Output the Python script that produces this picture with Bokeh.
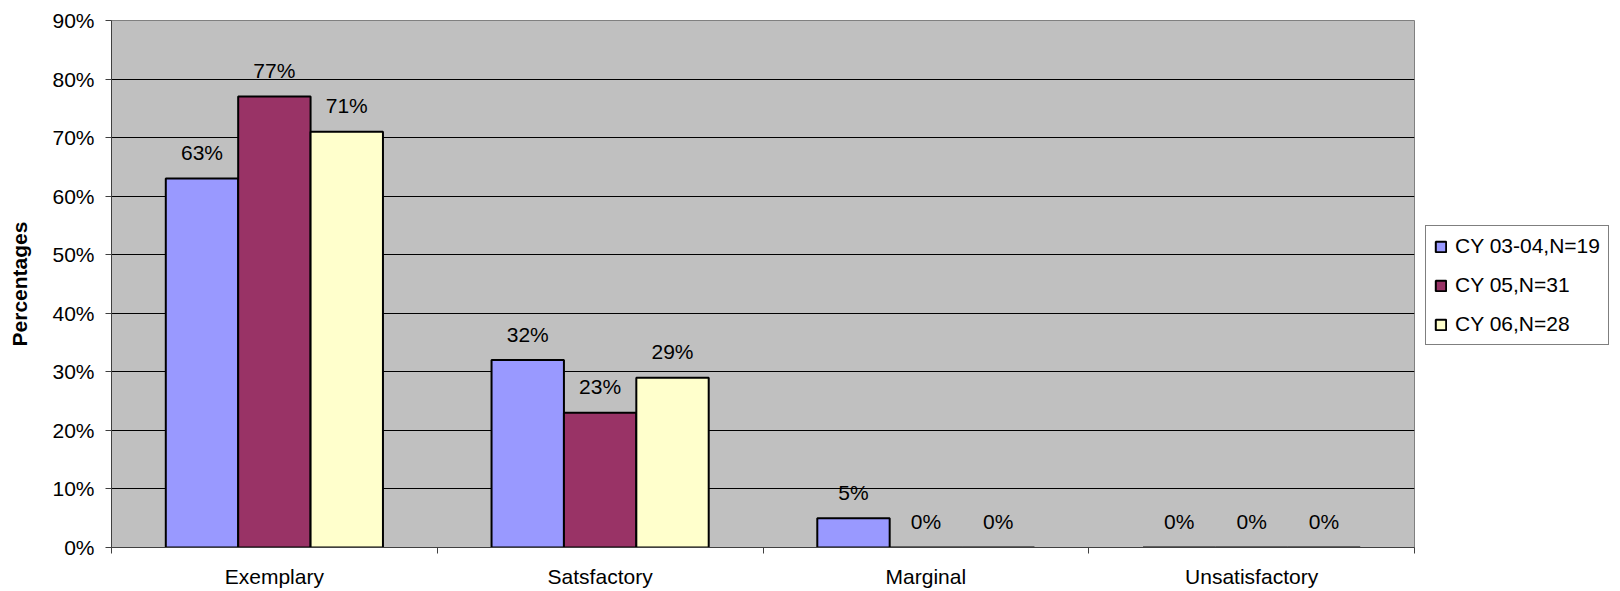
from bokeh.plotting import figure
from bokeh.layouts import row
from bokeh.models import (ColumnDataSource, FixedTicker, PrintfTickFormatter,
                          Legend, LegendItem, Range1d)
from bokeh.core.properties import value
from bokeh.embed import file_html
from bokeh.resources import INLINE

# Ratings and the share of reviews in each, per calendar-year cohort
categories = ["Exemplary", "Satsfactory", "Marginal", "Unsatisfactory"]
series_names = ["CY 03-04,N=19", "CY 05,N=31", "CY 06,N=28"]
cy0304 = [63, 32, 5, 0]
cy05 = [77, 23, 0, 0]
cy06 = [71, 29, 0, 0]
y_ticks = [0, 10, 20, 30, 40, 50, 60, 70, 80, 90]

series_values = [cy0304, cy05, cy06]
colors = ["#9999FF", "#993366", "#FFFFCC"]
FONT = "Liberation Sans"
FS = "21px"

p = figure(width=1416, height=591, output_backend="svg",
           toolbar_location=None,
           x_range=Range1d(0, len(categories)), y_range=Range1d(0, 90),
           min_border_left=111, min_border_right=2, min_border_top=20,
           min_border_bottom=44)

p.background_fill_color = "#C0C0C0"
p.border_fill_color = "white"
p.outline_line_color = "#808080"
p.outline_line_width = 1

bar_w = 1 / 4.5
for k, (name, vals, col) in enumerate(zip(series_names, series_values, colors)):
    xs = [i + 0.5 + (k - 1) * bar_w for i in range(len(categories))]
    src = ColumnDataSource(dict(x=xs, top=vals, label=[f"{round(v)}%" for v in vals]))
    p.vbar(x="x", top="top", width=bar_w, source=src, fill_color=col,
           line_color="black", line_width=2)
    p.text(x="x", y="top", text="label", source=src, text_align="center",
           text_baseline="middle", y_offset=-26, text_font=value(FONT),
           text_font_size=FS, text_color="black")

# y axis
p.yaxis.ticker = FixedTicker(ticks=y_ticks)
p.yaxis.formatter = PrintfTickFormatter(format="%d%%")
p.yaxis.major_label_text_font = FONT
p.yaxis.major_label_text_font_size = FS
p.yaxis.major_label_text_color = "black"
p.yaxis.major_tick_out = 6
p.yaxis.major_tick_in = 0
p.yaxis.minor_tick_line_color = None
p.yaxis.major_label_standoff = 11
p.yaxis.axis_line_color = "#404040"
p.yaxis.major_tick_line_color = "#404040"
p.yaxis.axis_label = "Percentages"
p.yaxis.axis_label_text_font = FONT
p.yaxis.axis_label_text_font_size = FS
p.yaxis.axis_label_text_font_style = "bold"
p.yaxis.axis_label_text_color = "black"
p.yaxis.axis_label_standoff = 18

# x axis: labels centred on categories, tick marks between them
p.xaxis.ticker = FixedTicker(ticks=[i + 0.5 for i in range(len(categories))],
                             minor_ticks=list(range(len(categories) + 1)))
p.xaxis.major_label_overrides = {i + 0.5: c for i, c in enumerate(categories)}
p.xaxis.major_label_text_font = FONT
p.xaxis.major_label_text_font_size = FS
p.xaxis.major_label_text_color = "black"
p.xaxis.major_tick_out = 0
p.xaxis.major_tick_in = 0
p.xaxis.minor_tick_out = 6
p.xaxis.minor_tick_in = 0
p.xaxis.minor_tick_line_color = "#404040"
p.xaxis.axis_line_color = "#404040"
p.xaxis.major_label_standoff = 11

p.xgrid.grid_line_color = None
p.ygrid.grid_line_color = "#000000"
p.ygrid.grid_line_width = 1

# side panel holding the series legend
side = figure(width=204, height=591, output_backend="svg", toolbar_location=None,
              x_range=Range1d(0, 1), y_range=Range1d(0, 1),
              x_axis_type=None, y_axis_type=None,
              min_border_left=0, min_border_right=0, min_border_top=0,
              min_border_bottom=0)
side.outline_line_color = None
side.grid.grid_line_color = None
side.background_fill_color = "white"
side.border_fill_color = "white"

items = []
for name, col in zip(series_names, colors):
    # swatch-only renderer for the legend (no drawable bar)
    r = side.vbar(x=[float("nan")], top=[float("nan")], width=0.1, fill_color=col,
                  line_color="black", line_width=2)
    items.append(LegendItem(label=name, renderers=[r]))

legend = Legend(items=items, location=(9, 202), margin=0, padding=8,
                spacing=15, glyph_width=13, glyph_height=13, label_height=21,
                label_standoff=8, label_text_font=FONT, label_text_font_size=FS,
                label_text_color="black", border_line_color="black",
                border_line_width=1, background_fill_color="white")
side.add_layout(legend, "center")

layout = row(p, side, spacing=0)
open("out.html", "w").write(file_html(layout, INLINE))
